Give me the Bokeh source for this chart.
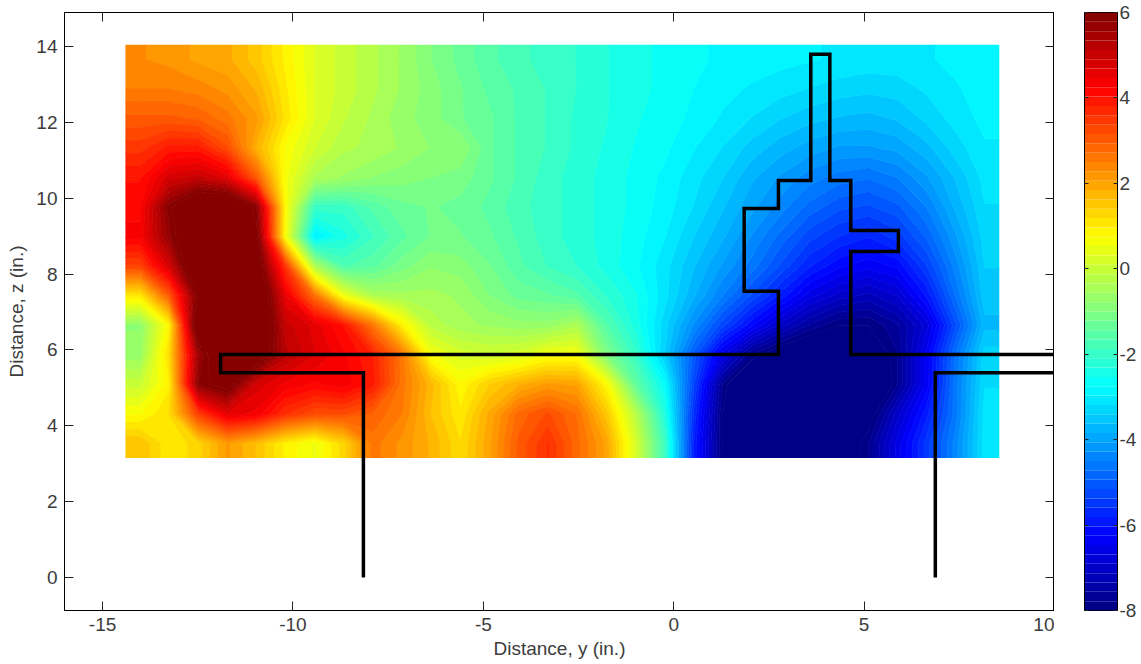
import numpy as np
from bokeh.plotting import figure
from bokeh.layouts import row
from bokeh.models import FixedTicker, LinearAxis, Range1d, PrintfTickFormatter
from bokeh.embed import file_html
from bokeh.resources import INLINE

# field values, top row first (z near 14 down to z near 3.5), left to right
field_rows = [
 [2.3,2.2,2.0,1.9,1.5,0.9,0.3,0.0,-0.3,-0.6,-1.0,-1.3,-1.6,-1.8,-2.0, -2.1,-2.3,-2.45,-2.6,-2.7,-2.8,-2.85,-2.9,-2.95,-3.0,-3.05,-3.05,-3.0,-2.9,-2.8],
 [2.5,2.5,2.4,2.2,1.8,1.0,0.3,0.0,-0.3,-0.6,-0.9,-1.2,-1.5,-1.7,-1.9, -2.1,-2.3,-2.45,-2.6,-2.75,-2.9,-3.0,-3.1,-3.2,-3.3,-3.35,-3.3,-3.15,-3.0,-2.85],
 [3.0,3.0,2.9,2.6,2.1,1.1,0.3,-0.1,-0.4,-0.7,-0.9,-1.2,-1.4,-1.7,-1.9, -2.15,-2.3,-2.5,-2.65,-2.8,-3.0,-3.2,-3.4,-3.55,-3.65,-3.7,-3.6,-3.35,-3.1,-2.9],
 [3.5,3.9,3.9,3.2,1.8,0.7,0.1,-0.3,-0.4,-0.6,-0.8,-0.8,-1.4,-1.7,-1.9, -2.15,-2.35,-2.55,-2.7,-2.95,-3.2,-3.5,-3.75,-3.95,-4.1,-4.1,-4.0,-3.7,-3.3,-3.0],
 [4.0,4.8,5.0,4.6,3.0,0.6,-0.4,-0.6,-0.8,-0.9,-1.0,-1.1,-1.4,-1.7,-2.0, -2.2,-2.4,-2.6,-2.8,-3.1,-3.4,-3.8,-4.1,-4.4,-4.6,-4.7,-4.5,-4.1,-3.6,-3.1],
 [4.2,5.9,7.0,7.0,5.8,0.7,-2.0,-2.0,-1.6,-1.3,-1.2,-1.3,-1.5,-1.8,-2.0, -2.2,-2.4,-2.6,-2.85,-3.2,-3.6,-4.0,-4.4,-4.8,-5.1,-5.2,-5.0,-4.5,-3.8,-3.2],
 [4.3,5.7,7.0,7.0,6.2,0.6,-3.0,-2.4,-1.9,-1.5,-1.2,-1.2,-1.4,-1.7,-2.0, -2.2,-2.4,-2.65,-2.95,-3.4,-3.8,-4.3,-4.8,-5.3,-5.6,-5.8,-5.5,-4.9,-4.1,-3.3],
 [3.3,4.8,7.0,7.0,6.5,3.5,-0.4,-1.7,-1.5,-1.1,-0.8,-0.9,-1.2,-1.6,-1.9, -2.1,-2.4,-2.7,-3.1,-3.6,-4.1,-4.6,-5.2,-5.8,-6.2,-6.4,-6.2,-5.4,-4.4,-3.4],
 [1.0,3.0,6.1,7.0,7.0,4.5,2.7,0.5,-0.4,-0.5,-0.5,-0.6,-1.0,-1.3,-1.4, -1.6,-2.1,-2.5,-3.1,-3.8,-4.5,-5.2,-5.9,-6.6,-7.0,-7.2,-6.9,-6.0,-4.7,-3.5],
 [-0.8,0.8,6.8,7.0,7.0,5.0,4.6,4.0,2.6,0.9,-0.2,-0.5,-0.6,-0.7,-0.7, -0.4,-1.6,-2.4,-3.3,-4.3,-5.3,-6.2,-7.0,-7.6,-8.0,-8.0,-7.6,-6.8,-5.2,-3.7],
 [-0.7,1.2,5.5,7.0,6.6,5.2,4.7,4.3,3.8,2.6,0.6,0.2,0.1,0.2,0.6, 0.6,-1.0,-2.0,-3.4,-5.0,-6.6,-7.8,-8.4,-8.8,-9.0,-8.5,-7.8,-6.4,-4.7,-3.3],
 [0.0,0.9,5.8,6.3,4.8,4.4,4.2,4.4,3.9,2.6,1.7,0.8,1.4,1.8,2.1, 2.0,0.8,-1.4,-2.7,-5.3,-7.8,-9.0,-9.3,-9.5,-9.5,-9.0,-7.8,-6.4,-4.6,-3.2],
 [0.7,1.2,3.4,4.6,4.4,3.6,3.2,3.2,2.9,2.5,1.6,1.0,1.9,2.8,3.2, 2.7,1.5,-0.2,-2.3,-5.6,-8.0,-9.5,-9.6,-9.6,-9.0,-8.3,-7.0,-5.9,-4.6,-3.1],
 [1.6,1.0,1.3,2.1,1.6,0.9,0.5,1.3,2.6,2.2,1.8,1.2,2.0,3.0,3.6, 2.8,2.0,0.2,-1.9,-5.8,-8.0,-8.8,-9.0,-9.0,-8.6,-7.8,-6.6,-5.5,-4.4,-3.1],
]
field_y0, field_y1 = -14.4, 8.55
field_z0, field_z1 = 3.15, 14.05

outer_y = [-8.15,-8.15,-11.9,-11.9,2.75,2.75,1.85,1.85,2.75,2.75,3.6,3.6,4.1,4.1,4.65,4.65,5.9,5.9,4.65,4.65,10.0]
outer_z = [0.0,5.4,5.4,5.88,5.88,7.55,7.55,9.73,9.73,10.47,10.47,13.8,13.8,10.47,10.47,9.15,9.15,8.6,8.6,5.88,5.88]
right_y = [10.0,6.87,6.87]
right_z = [5.4,5.4,0.0]

x_ticks = [-15,-10,-5,0,5,10]
z_ticks = [0,2,4,6,8,10,12,14]
cb_ticks = [-8,-6,-4,-2,0,2,4,6]
v_low, v_high = -8, 6

def jet(n):
    t = (np.arange(n) + 0.5) / n
    f = lambda c: np.clip(1.5 - np.abs(4*t - c), 0, 1)
    r, g, b = f(3), f(2), f(1)
    return ["#%02x%02x%02x" % (int(a*255), int(d*255), int(e*255)) for a, d, e in zip(r, g, b)]

FONT = "Liberation Sans"
TXT = "#3c3c3c"
SIZE = "19px"
palette = jet(64)

def style_axis(ax, labels=True):
    ax.major_tick_in = 9
    ax.major_tick_out = 0
    ax.minor_tick_line_color = None
    ax.axis_line_color = "black"
    ax.major_tick_line_color = "#222222"
    ax.major_label_text_font = FONT
    ax.major_label_text_font_size = SIZE
    ax.major_label_text_color = TXT
    ax.axis_label_text_font = FONT
    ax.axis_label_text_font_size = SIZE
    ax.axis_label_text_font_style = "normal"
    ax.axis_label_text_color = TXT
    ax.formatter = PrintfTickFormatter(format="%d")
    if not labels:
        ax.major_label_text_font_size = "0px"
        ax.major_label_text_color = None

p = figure(frame_width=990, frame_height=598, x_range=Range1d(-16, 10), y_range=Range1d(-0.87, 14.9),
           toolbar_location=None, output_backend="svg", min_border_left=64, min_border_right=0,
           min_border_top=12, min_border_bottom=54, x_axis_label="Distance, y (in.)", y_axis_label="Distance, z (in.)")
p.grid.visible = False
p.outline_line_color = "black"

# grid nodes sit at the cell centres the values were read at; the field edges repeat the border values
values = np.array(field_rows, dtype=float)[::-1]
ny, nx = values.shape
dy = (field_y1 - field_y0) / nx
dz = (field_z1 - field_z0) / ny
xs = np.r_[field_y0, field_y0 + dy * (np.arange(nx) + 0.5), field_y1]
zs = np.r_[field_z0, field_z0 + dz * (np.arange(ny) + 0.5), field_z1]
grid = np.pad(values, 1, mode="edge")
edges = np.linspace(v_low, v_high, 65)
levels = [-12.0] + list(edges) + [10.0]
fills = [palette[0]] + palette + [palette[-1]]
lines = [palette[0]] + palette + [palette[-1], palette[-1]]
p.contour(xs, zs, grid, levels=levels, fill_color=fills, line_color=lines, line_width=1.0)

p.line(outer_y, outer_z, line_color="black", line_width=3.5, line_join="miter")
p.line(right_y, right_z, line_color="black", line_width=3.5, line_join="miter")
p.xaxis.ticker = FixedTicker(ticks=x_ticks)
p.yaxis.ticker = FixedTicker(ticks=z_ticks)
style_axis(p.xaxis[0]); style_axis(p.yaxis[0])
p.xaxis[0].major_label_standoff = 7
p.yaxis[0].major_label_standoff = 7
p.xaxis[0].axis_label_standoff = 4
p.yaxis[0].axis_label_standoff = 6
top = LinearAxis(ticker=FixedTicker(ticks=x_ticks)); style_axis(top, False); p.add_layout(top, "above")
rgt = LinearAxis(ticker=FixedTicker(ticks=z_ticks)); style_axis(rgt, False); p.add_layout(rgt, "right")

cb = figure(frame_width=33, frame_height=598, x_range=Range1d(0, 1), y_range=Range1d(v_low, v_high),
            toolbar_location=None, output_backend="svg", min_border_left=30, min_border_right=0,
            min_border_top=12, min_border_bottom=54)
cb.grid.visible = False
cb.outline_line_color = "black"
cb.quad(left=0, right=1, bottom=edges[:-1], top=edges[1:], fill_color=palette, line_color=None)
cb.xaxis.visible = False
cb.yaxis.visible = False
r_ax = LinearAxis(ticker=FixedTicker(ticks=cb_ticks)); style_axis(r_ax); r_ax.major_tick_in = 4; r_ax.major_label_standoff = 2
cb.add_layout(r_ax, "right")
l_ax = LinearAxis(ticker=FixedTicker(ticks=cb_ticks)); style_axis(l_ax, False); l_ax.major_tick_in = 4
cb.add_layout(l_ax, "left")

open("out.html", "w").write(file_html(row(p, cb, spacing=0), INLINE))
